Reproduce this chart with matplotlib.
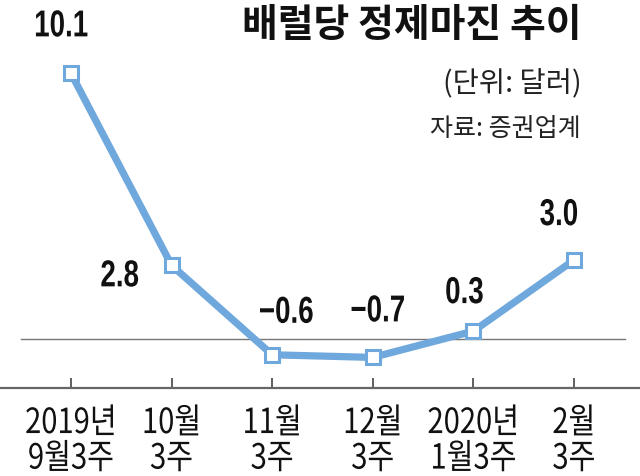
import matplotlib
matplotlib.use("Agg")
import matplotlib.pyplot as plt
from matplotlib.patheffects import AbstractPathEffect
from matplotlib.transforms import Affine2D

# data
weeks = ["2019년\n9월3주", "10월\n3주", "11월\n3주", "12월\n3주", "2020년\n1월3주", "2월\n3주"]
margin = [10.1, 2.8, -0.6, -0.7, 0.3, 3.0]
value_labels = ["10.1", "2.8", "−0.6", "−0.7", "0.3", "3.0"]
# label offsets from each point, in pixels
label_dx = [-10, -52, 14, 5, -9, -15]
label_dy = [47, -11, 42, 46, 38, 45]


class Squeeze(AbstractPathEffect):
    """narrow the text horizontally around its own centre (condensed look)"""
    def __init__(self, sx):
        super().__init__()
        self.sx = sx

    def draw_path(self, renderer, gc, tpath, affine, rgbFace=None):
        ext = tpath.get_extents(affine)
        cx = (ext.x0 + ext.x1) / 2
        t = affine + Affine2D().translate(-cx, 0).scale(self.sx, 1).translate(cx, 0)
        renderer.draw_path(gc, tpath, t, rgbFace)


blue = "#6fa8dc"
num_font = ["Liberation Sans", "DejaVu Sans"]
kr_font = ["Noto Sans CJK KR", "DejaVu Sans"]

fig = plt.figure(figsize=(6.4, 4.76), dpi=100)
ax = fig.add_axes([0, 1 - 388 / 476, 1, 388 / 476])

x = list(range(len(weeks)))

# zero reference line
ax.axhline(0, xmin=0.033, xmax=0.977, color="#777777", lw=1.0, zorder=1)

ax.plot(x, margin, color=blue, lw=5.2, solid_joinstyle="round", zorder=2)
ax.plot(x, margin, ls="none", marker="s", ms=10.5, mfc="white", mec=blue, mew=2.2, zorder=3)

for xi, yi, lab, dx, dy in zip(x, margin, value_labels, label_dx, label_dy):
    ax.annotate(lab, (xi, yi), xytext=(dx, dy), textcoords="offset pixels",
                ha="center", va="center", fontsize=27, fontweight="bold",
                family=num_font, color="#111111", path_effects=[Squeeze(0.74)])

ax.set_xlim(-0.706, 5.656)
ax.set_ylim(-1.863, 12.89)

for side in ["top", "left", "right"]:
    ax.spines[side].set_visible(False)
ax.spines["bottom"].set_color("#666666")
ax.spines["bottom"].set_linewidth(1.6)
ax.set_yticks([])
ax.set_xticks(x)
ax.set_xticklabels(weeks, family=kr_font, fontsize=25, color="#111111", linespacing=1.02)
for t in ax.get_xticklabels():
    t.set_path_effects([Squeeze(0.84)])
ax.tick_params(axis="x", direction="in", length=7, width=1.2, color="#444444", pad=13)

# title and notes
fig.text(582 / 640, 1 - 25 / 476, "배럴당 정제마진 추이", ha="right", va="center",
         fontsize=28, fontweight="bold", family=kr_font, color="#111111")
fig.text(582 / 640, 1 - 84 / 476, "(단위: 달러)", ha="right", va="center",
         fontsize=20.5, family=kr_font, color="#222222")
fig.text(581 / 640, 1 - 129 / 476, "자료: 증권업계", ha="right", va="center",
         fontsize=18, family=kr_font, color="#222222")

fig.savefig("out.png", dpi=100, facecolor="white")
